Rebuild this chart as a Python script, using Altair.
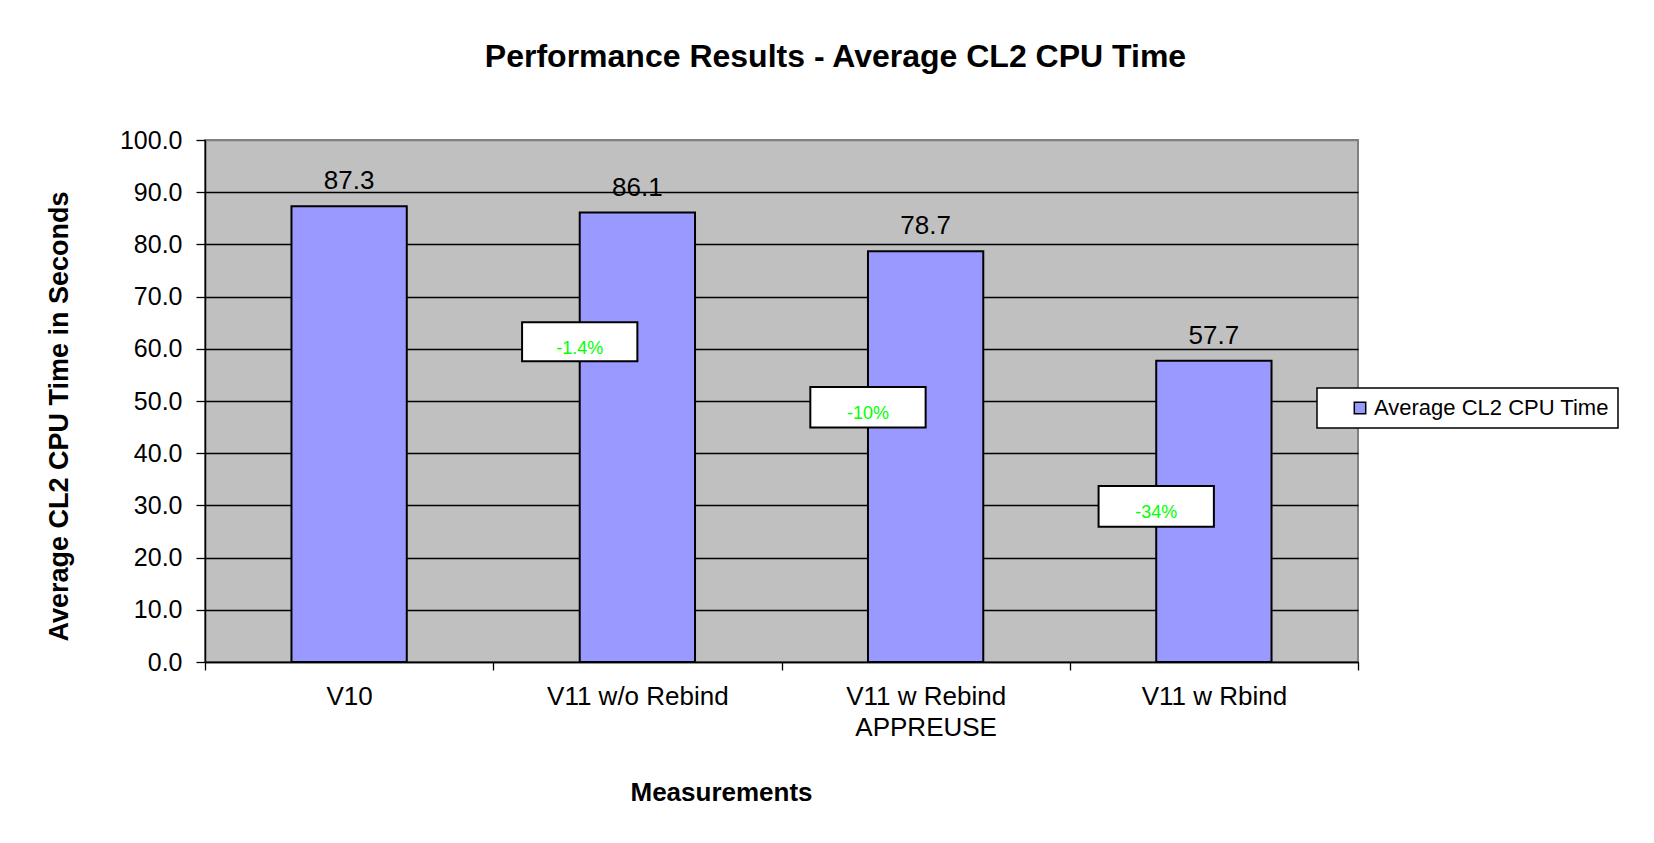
import altair as alt
import pandas as pd

# ---- data ----
categories = ["V10", "V11 w/o Rebind", "V11 w Rebind\nAPPREUSE", "V11 w Rbind"]
cpu_seconds = [87.3, 86.1, 78.7, 57.7]
series_name = "Average CL2 CPU Time"

change_categories = ["V11 w/o Rebind", "V11 w Rebind\nAPPREUSE", "V11 w Rbind"]
change_labels = ["-1.4%", "-10%", "-34%"]
change_box_top = [65.1, 52.7, 33.7]
change_box_bottom = [57.6, 44.9, 25.9]
change_text_y = [60.0, 47.6, 28.6]

y_tick_values = [0, 10, 20, 30, 40, 50, 60, 70, 80, 90, 100]

FONT = "Liberation Sans"

bars_df = pd.DataFrame({
    "measurement": categories,
    "seconds": cpu_seconds,
    "series": [series_name] * len(categories),
})
chg_df = pd.DataFrame({
    "measurement": change_categories,
    "label": change_labels,
    "top": change_box_top,
    "bottom": change_box_bottom,
    "ty": change_text_y,
})

x_scale = alt.Scale(domain=categories, paddingInner=0, paddingOuter=0)
y_scale = alt.Scale(domain=[0, 100], nice=False)

x_axis = alt.Axis(
    title="Measurements",
    labelExpr="split(datum.label, '\\n')",
    labelAngle=0,
    labelLimit=400,
    tickBand="extent",
    grid=False,
    labelFontSize=26,
    labelLineHeight=31,
    labelPadding=13,
    tickSize=8,
    titleFontSize=26,
    titleFontWeight="bold",
    titleX=516,
    titleY=138,
    titleAlign="center",
    titleBaseline="alphabetic",
)

y_axis = alt.Axis(
    title="Average CL2 CPU Time in Seconds",
    values=y_tick_values,
    format=".1f",
    labelFontSize=25,
    labelPadding=14,
    tickSize=9,
    grid=True,
    gridColor={"condition": {"test": "datum.value >= 100", "value": "#808080"}, "value": "#000000"},
    gridWidth=1.3,
    titleFontSize=27,
    titleFontWeight="bold",
    titleAngle=270,
    titleX=-146,
    titleY=276,
    titleAlign="center",
    titleBaseline="middle",
)

bars = alt.Chart(bars_df).mark_bar(
    width=alt.RelativeBandSize(0.4), stroke="black", strokeWidth=2
).encode(
    x=alt.X("measurement:N", scale=x_scale, axis=x_axis, sort=categories),
    y=alt.Y("seconds:Q", scale=y_scale, axis=y_axis),
    color=alt.Color(
        "series:N",
        scale=alt.Scale(range=["#9999ff"]),
        legend=alt.Legend(
            title=None,
            orient="none",
            legendX=1112,
            legendY=248,
            fillColor="white",
            strokeColor="black",
            padding=9,
            labelFontSize=22,
            labelFont=FONT,
            labelColor="black",
            labelLimit=500,
            labelExpr="datum.label + '\u00a0\u00a0\u00a0'",
            symbolType="square",
            symbolSize=130,
            symbolStrokeColor="black",
            symbolStrokeWidth=1.5,
            symbolOffset=23,
            labelOffset=3,
        ),
    ),
)

value_labels = alt.Chart(bars_df).mark_text(
    font=FONT, fontSize=26, dy=-25, baseline="middle", color="black"
).encode(
    x=alt.X("measurement:N", sort=categories),
    y=alt.Y("seconds:Q"),
    text=alt.Text("seconds:Q", format=".1f"),
)

boxes = alt.Chart(chg_df).mark_rect(fill="white", stroke="black", strokeWidth=2).encode(
    x=alt.X("measurement:N", bandPosition=0.1, sort=categories),
    x2=alt.X2("measurement", bandPosition=0.5),
    y=alt.Y("top:Q"),
    y2=alt.Y2("bottom"),
)

change_text = alt.Chart(chg_df).mark_text(
    font=FONT, fontSize=18, color="#00ff00", baseline="middle"
).encode(
    x=alt.X("measurement:N", bandPosition=0.3, sort=categories),
    y=alt.Y("ty:Q"),
    text=alt.Text("label:N"),
)

chart = alt.layer(bars, value_labels, boxes, change_text).properties(
    width=1153,
    height=522,
    autosize=alt.AutoSizeParams(type="none"),
    padding={"left": 197, "top": 132, "right": 280, "bottom": 165},
    background="white",
    title=alt.TitleParams(
        "Performance Results - Average CL2 CPU Time",
        fontSize=32,
        font=FONT,
        fontWeight="bold",
        anchor="middle",
        frame="group",
        dx=54,
        dy=33,
        offset=62,
        baseline="alphabetic",
        color="black",
    ),
).configure_view(
    fill="#c0c0c0", stroke="#808080", strokeWidth=2
).configure_axis(
    domainColor="black",
    domainWidth=1.5,
    tickColor="black",
    tickWidth=1.3,
    labelColor="black",
    titleColor="black",
    labelFont=FONT,
    titleFont=FONT,
).configure_legend(
    strokeWidth=1.5
)

chart.save("out.html", embed_options={"renderer": "svg", "actions": False})
